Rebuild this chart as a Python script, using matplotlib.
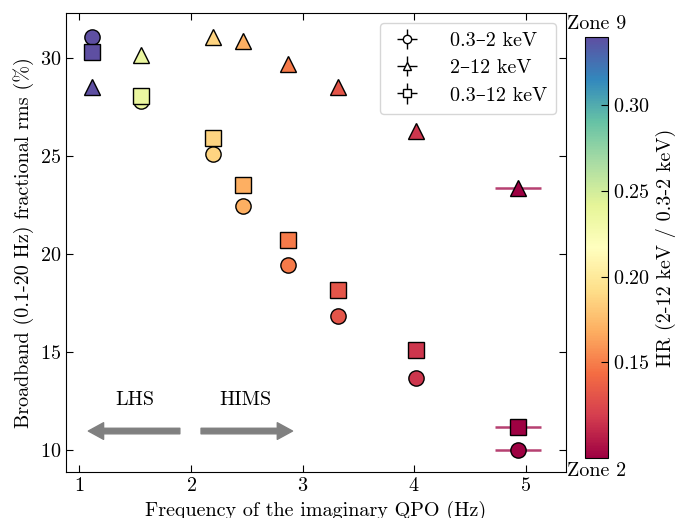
import numpy as np
import matplotlib
matplotlib.use("Agg")
from matplotlib import pyplot as plt
from matplotlib import colors as mcolors

plt.rcParams['font.family'] = ['cmr10', 'DejaVu Serif']
plt.rcParams['mathtext.fontset'] = 'cm'
plt.rcParams['axes.formatter.use_mathtext'] = True
plt.rcParams['font.size'] = 14.5

# zone-averaged values, zones 2..9
zones = [2, 3, 4, 5, 6, 7, 8, 9]
freq = [4.93, 4.02, 3.32, 2.87, 2.47, 2.20, 1.55, 1.11]
freq_err = [0.21, 0.02, 0.01, 0.01, 0.01, 0.01, 0.01, 0.01]
hr = [0.094, 0.116, 0.131, 0.148, 0.168, 0.187, 0.237, 0.340]
rms_soft = [10.0, 13.7, 16.85, 19.45, 22.45, 25.1, 27.8, 31.07]   # 0.3-2 keV
rms_hard = [23.35, 26.3, 28.5, 29.7, 30.85, 31.1, 30.15, 28.5]    # 2-12 keV
rms_full = [11.2, 15.1, 18.15, 20.7, 23.5, 25.9, 28.05, 30.3]     # 0.3-12 keV
rms_err = [0.1, 0.1, 0.1, 0.1, 0.1, 0.1, 0.1, 0.1]

bands = [("0.3\u20132 keV", "o", rms_soft),
         ("2\u201312 keV", "^", rms_hard),
         ("0.3\u201312 keV", "s", rms_full)]

fig = plt.figure(figsize=(6.75, 5.18), dpi=100)
ax = fig.add_axes([66 / 675, 1 - 472 / 518, 500 / 675, 459 / 518])
cax = fig.add_axes([585 / 675, 1 - 458 / 518, 23 / 675, 421 / 518])

cmap = plt.get_cmap("Spectral")
norm = mcolors.Normalize(vmin=min(hr), vmax=max(hr))

for label, marker, rms in bands:
    for i in range(len(zones)):
        c = cmap(norm(hr[i]))
        _, _, bars = ax.errorbar(freq[i], rms[i], xerr=freq_err[i], yerr=rms_err[i], fmt=marker,
                                 ms=11 if marker != "^" else 11.5, mfc=c, mec="k", mew=1.0,
                                 ecolor=c, elinewidth=1.8, capsize=0, zorder=3)
        for b in bars:
            b.set_alpha(0.75)
    # legend proxy
    ax.errorbar([np.nan], [np.nan], xerr=[1], yerr=[1], fmt=marker, ms=6,
                mfc="white", mec="k", ecolor="k", elinewidth=1.0, label=label)

ax.set_xlim(0.88, 5.36)
ax.set_ylim(8.88, 32.3)
ax.set_xticks([1, 2, 3, 4, 5])
ax.set_yticks([10, 15, 20, 25, 30])
ax.tick_params(direction="in", top=True, right=True, length=5)
ax.set_xlabel("Frequency of the imaginary QPO (Hz)")
ax.set_ylabel("Broadband (0.1-20 Hz) fractional rms (%)")

ax.legend(loc="upper right", fontsize=14.5, handlelength=1.8, borderpad=0.45,
          labelspacing=0.45, handletextpad=1.2)

# state arrows
ax.annotate("", xy=(1.08, 10.97), xytext=(1.90, 10.97),
            arrowprops=dict(facecolor="gray", edgecolor="gray", width=4,
                            headwidth=12, headlength=11))
ax.annotate("", xy=(2.91, 10.97), xytext=(2.09, 10.97),
            arrowprops=dict(facecolor="gray", edgecolor="gray", width=4,
                            headwidth=12, headlength=11))
ax.text(1.5, 12.55, "LHS", ha="center", va="center")
ax.text(2.49, 12.55, "HIMS", ha="center", va="center")

sm = matplotlib.cm.ScalarMappable(norm=norm, cmap=cmap)
cb = fig.colorbar(sm, cax=cax)
cb.set_ticks([0.15, 0.20, 0.25, 0.30])
cb.ax.tick_params(direction="in", length=5)
cb.set_label("HR (2-12 keV / 0.3-2 keV)")
cax.text(0.5, 1.01, "Zone 9", transform=cax.transAxes, ha="center", va="bottom")
cax.text(0.5, -0.01, "Zone 2", transform=cax.transAxes, ha="center", va="top")

fig.savefig("out.png", dpi=100)
